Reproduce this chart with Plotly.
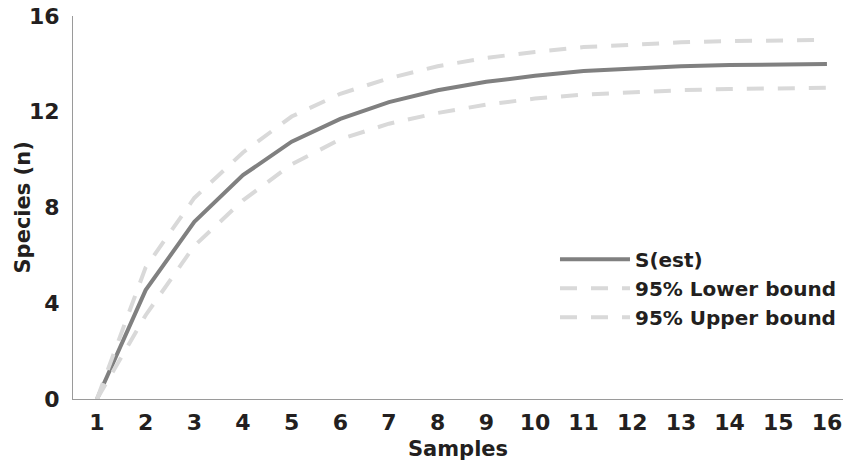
import plotly.graph_objects as go

samples = list(range(1, 17))
s_est = [0, 4.55, 7.4, 9.35, 10.75, 11.7, 12.4, 12.9, 13.25, 13.5, 13.7, 13.82, 13.9, 13.95, 13.98, 14.0]
lower_95 = [0, 3.5, 6.4, 8.3, 9.8, 10.85, 11.5, 11.95, 12.3, 12.55, 12.72, 12.83, 12.9, 12.95, 12.98, 13.0]
upper_95 = [0, 5.5, 8.4, 10.3, 11.8, 12.75, 13.4, 13.9, 14.25, 14.5, 14.7, 14.82, 14.9, 14.95, 14.98, 15.0]
x_ticks = list(range(1, 17))
y_ticks = [0, 4, 8, 12, 16]

FONT = "DejaVu Sans"
TXT = "#231f20"

fig = go.Figure()
fig.add_trace(go.Scatter(x=samples, y=s_est, mode="lines", name="S(est)",
                         line=dict(color="#808080", width=4)))
fig.add_trace(go.Scatter(x=samples, y=lower_95, mode="lines", name="95% Lower bound",
                         line=dict(color="#d9d9d9", width=4, dash="17px,14px")))
fig.add_trace(go.Scatter(x=samples, y=upper_95, mode="lines", name="95% Upper bound",
                         line=dict(color="#d9d9d9", width=4, dash="17px,14px")))

fig.update_layout(
    width=865, height=463,
    margin=dict(l=73, r=22, t=16, b=64, autoexpand=False),
    paper_bgcolor="white", plot_bgcolor="white",
    font=dict(family=FONT, color=TXT, weight="bold"),
    showlegend=True,
    legend=dict(xref="container", yref="container", x=0.6416, y=0.482,
                xanchor="left", yanchor="top",
                font=dict(family=FONT, size=20, color=TXT, weight="bold"),
                bgcolor="rgba(0,0,0,0)", tracegroupgap=0, itemwidth=70),
    xaxis=dict(range=[0.507, 16.33], tickmode="array", tickvals=x_ticks,
               ticktext=[str(v) for v in x_ticks], automargin=False,
               showgrid=False, zeroline=False, showline=True, linecolor="#9a9a9a", linewidth=1,
               ticks="", ticklabelstandoff=4,
               tickfont=dict(family=FONT, size=22, color=TXT, weight="bold"),
               title=dict(text="Samples", font=dict(family=FONT, size=21, color=TXT, weight="bold"),
                          standoff=6)),
    yaxis=dict(range=[0, 16], tickmode="array", tickvals=y_ticks, automargin=False,
               showgrid=False, zeroline=False, showline=True, linecolor="#9a9a9a", linewidth=1,
               ticks="", ticklabelstandoff=8,
               tickfont=dict(family=FONT, size=22, color=TXT, weight="bold")),
    annotations=[dict(text="Species (n)", xref="paper", yref="paper", x=0, y=0.5,
                      xanchor="center", yanchor="middle", xshift=-51, textangle=-90,
                      showarrow=False,
                      font=dict(family=FONT, size=21, color=TXT, weight="bold"))],
)

fig.write_html("out.html", config={"displayModeBar": False},
               post_script="document.body.style.margin='0';")
